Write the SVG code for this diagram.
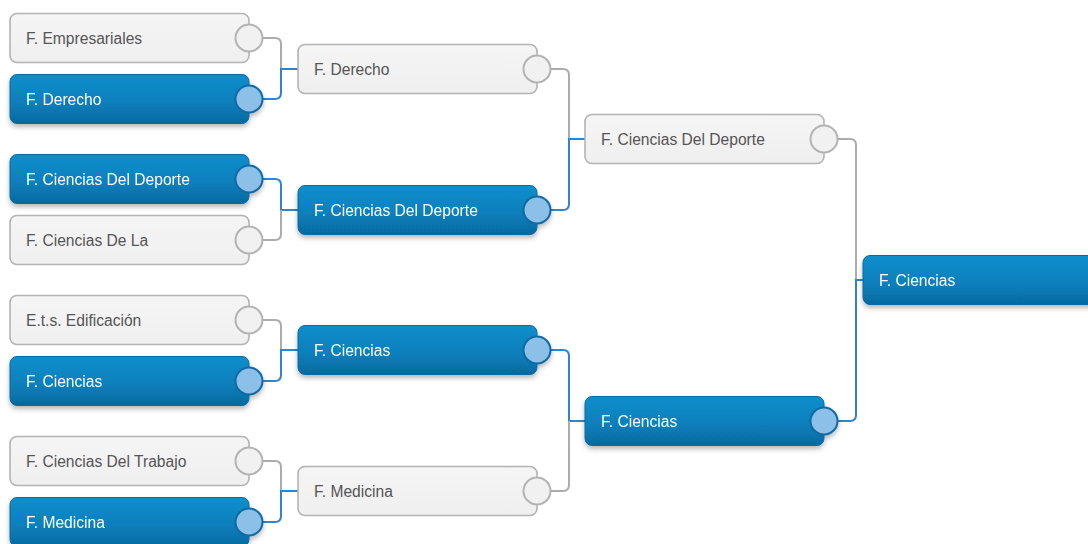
<svg xmlns="http://www.w3.org/2000/svg" width="1088" height="544" viewBox="0 0 1088 544">
<defs>
<linearGradient id="gBlue" x1="0" y1="0" x2="0" y2="1">
<stop offset="0" stop-color="#0a8fcc"/>
<stop offset="0.55" stop-color="#0880bd"/>
<stop offset="1" stop-color="#066aa0"/>
</linearGradient>
<linearGradient id="gGrey" x1="0" y1="0" x2="0" y2="1">
<stop offset="0" stop-color="#f5f5f5"/>
<stop offset="1" stop-color="#efefef"/>
</linearGradient>
<filter id="sh" x="-10%" y="-30%" width="120%" height="170%">
<feDropShadow dx="0" dy="3" stdDeviation="2.5" flood-color="#000" flood-opacity="0.28"/>
</filter>
</defs>
<style>
.win rect{fill:url(#gBlue);stroke:#0b6b9f;stroke-width:1;}
.lose rect{fill:url(#gGrey);stroke:#b3b3b3;stroke-width:1.6;}
.win text{fill:#ffffff;font-family:"Liberation Sans",Arial,sans-serif;font-size:15.6px;}
.lose text{fill:#555555;font-family:"Liberation Sans",Arial,sans-serif;font-size:15.6px;}
.win circle{fill:#8cc0e8;stroke:#116aa3;stroke-width:2;}
.lose circle{fill:#f1f1f1;stroke:#b3b3b3;stroke-width:2;}
.cg{fill:none;stroke:#acacac;stroke-width:2;}
.cb{fill:none;stroke:#2f83cf;stroke-width:2;}
</style>
<rect x="0" y="0" width="1088" height="544" fill="#ffffff"/>

<g id="connectors">
<path class="cg" d="M263 38 H275 Q281 38 281 44 V69"/>
<path class="cb" d="M263 99 H275 Q281 99 281 93 V69 H298"/>
<path class="cb" d="M263 179 H275 Q281 179 281 185 V210 H298"/>
<path class="cg" d="M263 240 H275 Q281 240 281 234 V210"/>
<path class="cg" d="M263 320 H275 Q281 320 281 326 V350"/>
<path class="cb" d="M263 381 H275 Q281 381 281 375 V350 H298"/>
<path class="cg" d="M263 461 H275 Q281 461 281 467 V491"/>
<path class="cb" d="M263 522 H275 Q281 522 281 516 V491 H298"/>
<path class="cg" d="M551 69 H563 Q569 69 569 75 V139"/>
<path class="cb" d="M551 210 H563 Q569 210 569 204 V139 H585"/>
<path class="cb" d="M551 350 H563 Q569 350 569 356 V421 H585"/>
<path class="cg" d="M551 491 H563 Q569 491 569 485 V421"/>
<path class="cg" d="M838 139 H850 Q856 139 856 145 V280"/>
<path class="cb" d="M838 421 H850 Q856 421 856 415 V280 H863"/>
</g>

<g id="r1-empresariales" class="lose">
<rect x="10" y="13.5" width="239" height="49" rx="7"/>
<circle cx="249" cy="38" r="13.5"/>
<text x="26" y="43.5">F. Empresariales</text>
</g>
<g id="r1-derecho" class="win" filter="url(#sh)">
<rect x="10" y="74.5" width="239" height="49" rx="7"/>
<circle cx="249" cy="99" r="13.5"/>
<text x="26" y="104.5">F. Derecho</text>
</g>
<g id="r1-deporte" class="win" filter="url(#sh)">
<rect x="10" y="154.5" width="239" height="49" rx="7"/>
<circle cx="249" cy="179" r="13.5"/>
<text x="26" y="184.5">F. Ciencias Del Deporte</text>
</g>
<g id="r1-cienciasdela" class="lose">
<rect x="10" y="215.5" width="239" height="49" rx="7"/>
<circle cx="249" cy="240" r="13.5"/>
<text x="26" y="245.5">F. Ciencias De La</text>
</g>
<g id="r1-edificacion" class="lose">
<rect x="10" y="295.5" width="239" height="49" rx="7"/>
<circle cx="249" cy="320" r="13.5"/>
<text x="26" y="325.5">E.t.s. Edificación</text>
</g>
<g id="r1-ciencias" class="win" filter="url(#sh)">
<rect x="10" y="356.5" width="239" height="49" rx="7"/>
<circle cx="249" cy="381" r="13.5"/>
<text x="26" y="386.5">F. Ciencias</text>
</g>
<g id="r1-trabajo" class="lose">
<rect x="10" y="436.5" width="239" height="49" rx="7"/>
<circle cx="249" cy="461" r="13.5"/>
<text x="26" y="466.5">F. Ciencias Del Trabajo</text>
</g>
<g id="r1-medicina" class="win" filter="url(#sh)">
<rect x="10" y="497.5" width="239" height="49" rx="7"/>
<circle cx="249" cy="522" r="13.5"/>
<text x="26" y="527.5">F. Medicina</text>
</g>

<g id="r2-derecho" class="lose">
<rect x="298" y="44.5" width="239" height="49" rx="7"/>
<circle cx="537" cy="69" r="13.5"/>
<text x="314" y="74.5">F. Derecho</text>
</g>
<g id="r2-deporte" class="win" filter="url(#sh)">
<rect x="298" y="185.5" width="239" height="49" rx="7"/>
<circle cx="537" cy="210" r="13.5"/>
<text x="314" y="215.5">F. Ciencias Del Deporte</text>
</g>
<g id="r2-ciencias" class="win" filter="url(#sh)">
<rect x="298" y="325.5" width="239" height="49" rx="7"/>
<circle cx="537" cy="350" r="13.5"/>
<text x="314" y="355.5">F. Ciencias</text>
</g>
<g id="r2-medicina" class="lose">
<rect x="298" y="466.5" width="239" height="49" rx="7"/>
<circle cx="537" cy="491" r="13.5"/>
<text x="314" y="496.5">F. Medicina</text>
</g>

<g id="r3-deporte" class="lose">
<rect x="585" y="114.5" width="239" height="49" rx="7"/>
<circle cx="824" cy="139" r="13.5"/>
<text x="601" y="144.5">F. Ciencias Del Deporte</text>
</g>
<g id="r3-ciencias" class="win" filter="url(#sh)">
<rect x="585" y="396.5" width="239" height="49" rx="7"/>
<circle cx="824" cy="421" r="13.5"/>
<text x="601" y="426.5">F. Ciencias</text>
</g>

<g id="r4-ciencias" class="win" filter="url(#sh)">
<rect x="863" y="255.5" width="260" height="49" rx="7"/>
<text x="879" y="285.5">F. Ciencias</text>
</g>
</svg>
